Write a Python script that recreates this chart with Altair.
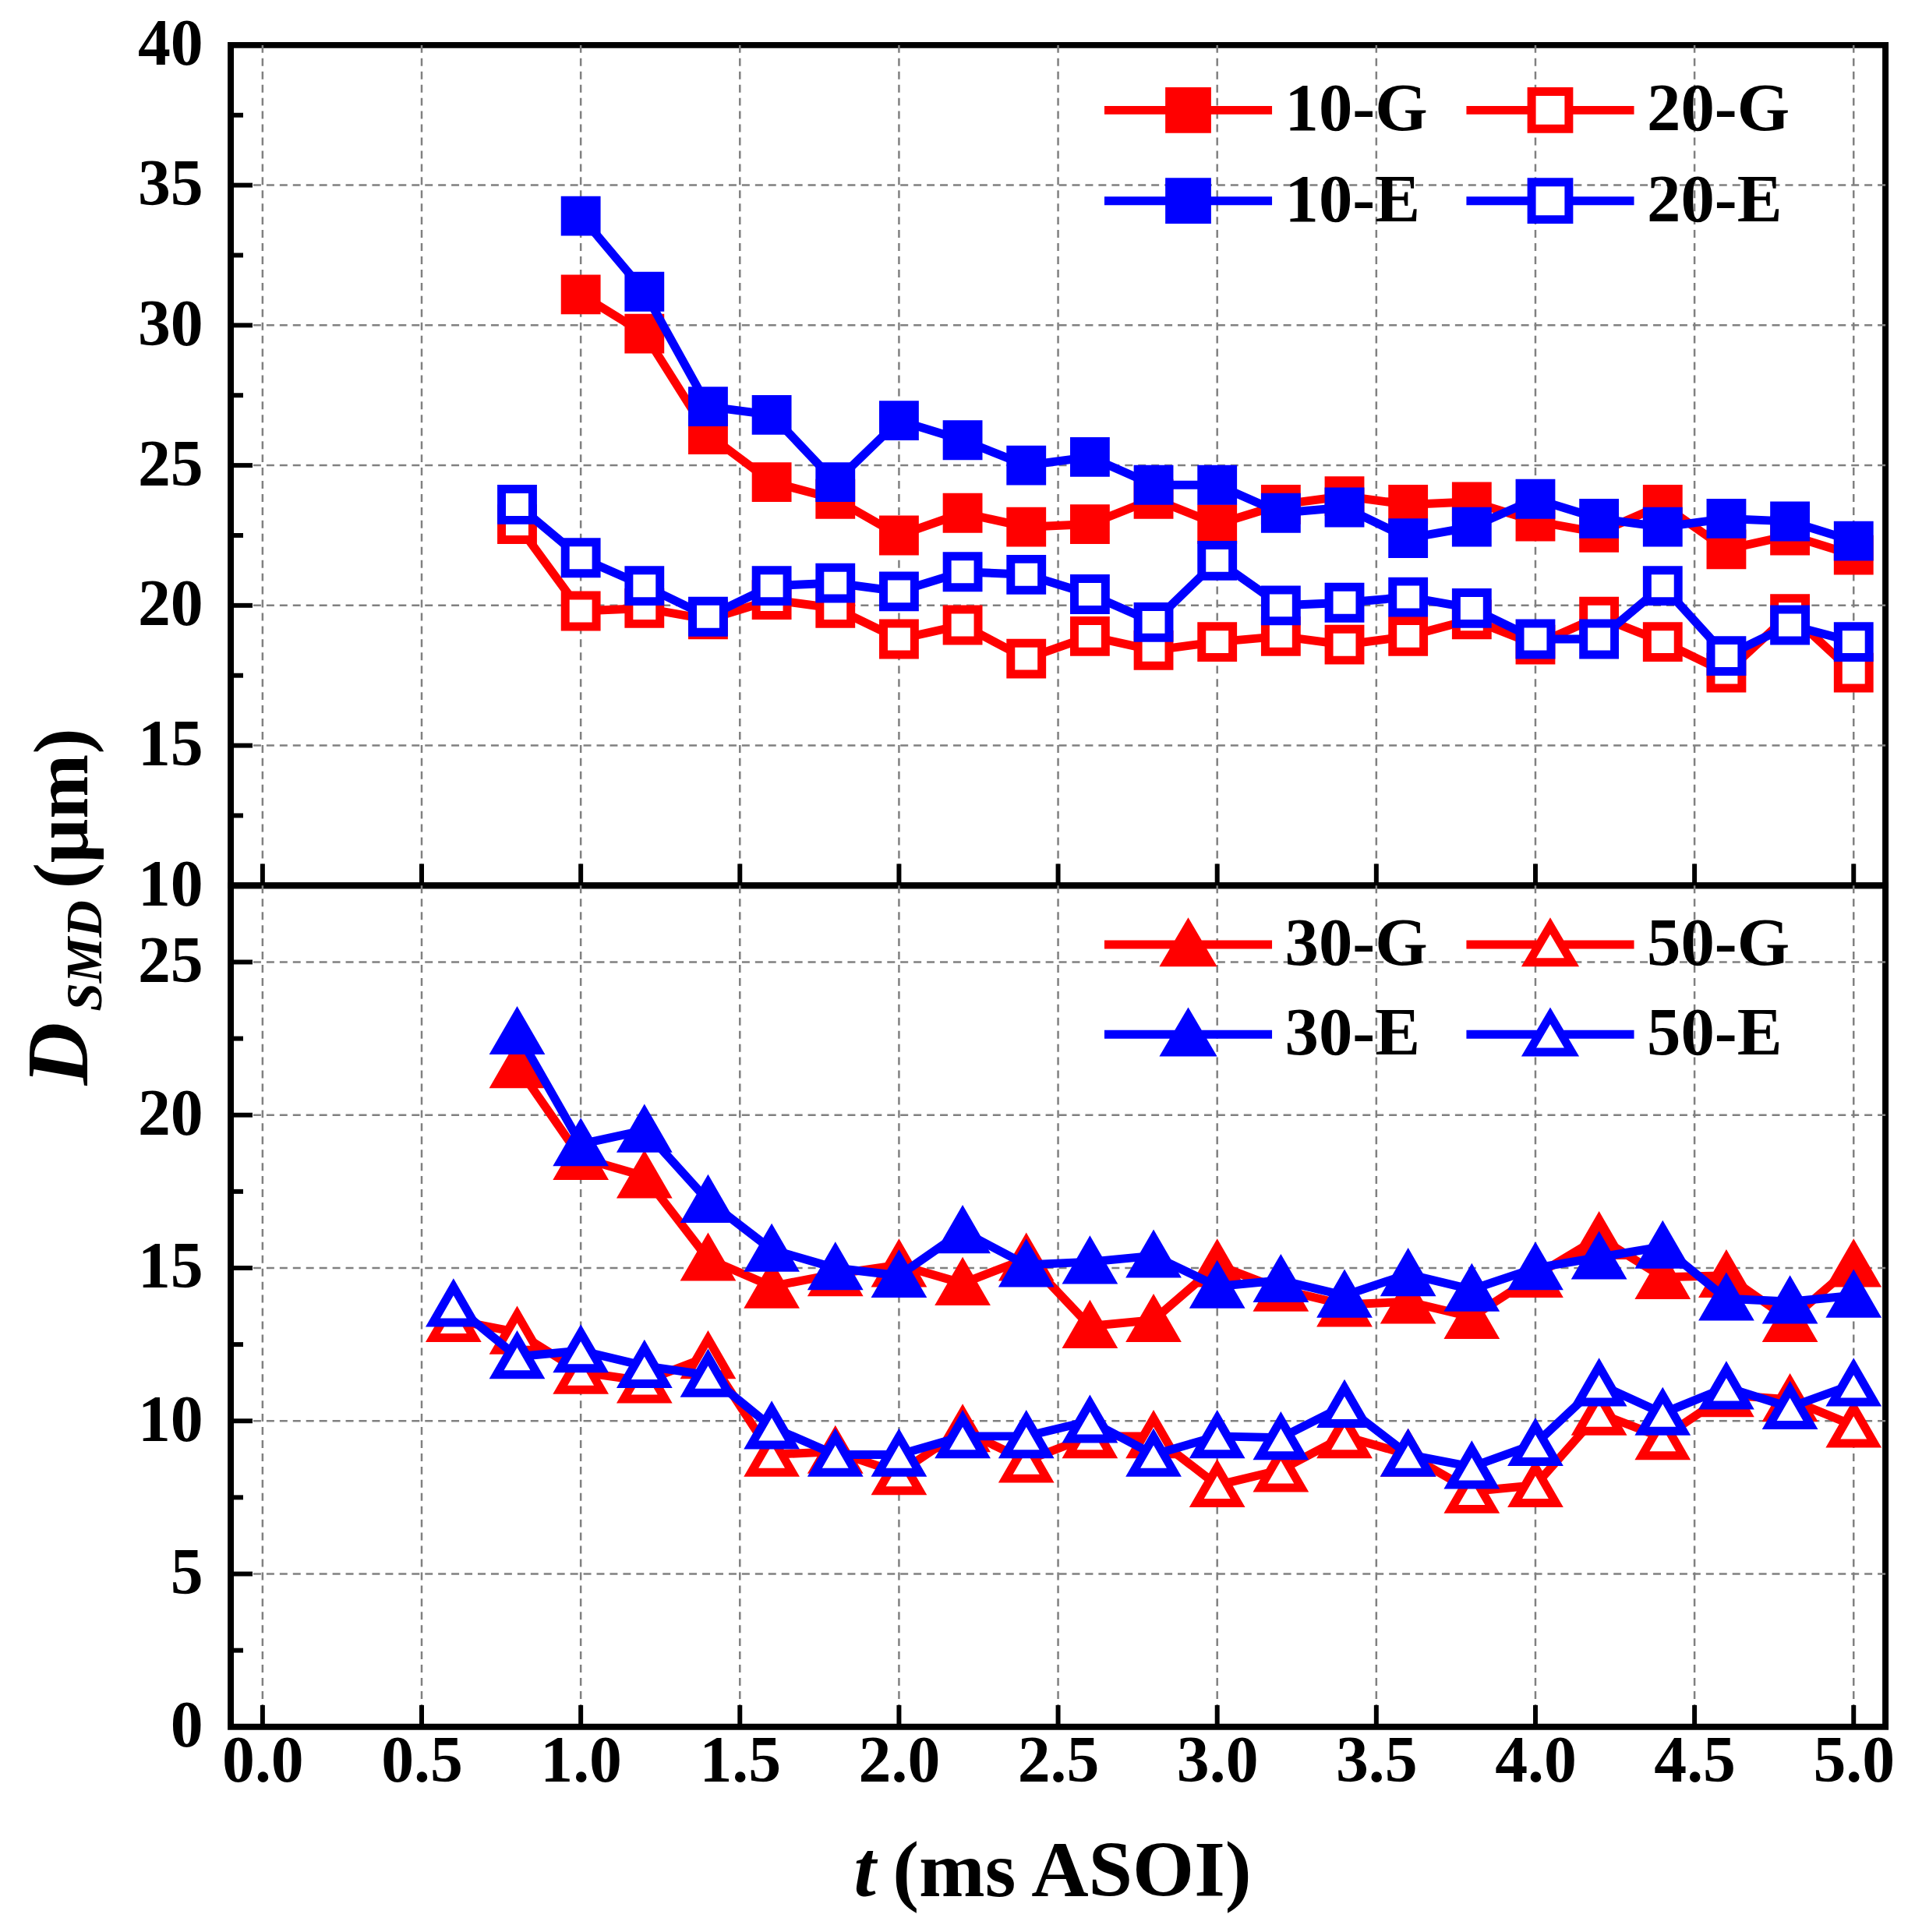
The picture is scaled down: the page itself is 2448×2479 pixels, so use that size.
import altair as alt
import pandas as pd

RED = "#FF0000"
BLUE = "#0000FF"
WHITE = "#FFFFFF"
SERIF = "Liberation Serif"

# ---------------- data ----------------
t_a = [1.0, 1.2, 1.4, 1.6, 1.8, 2.0, 2.2, 2.4, 2.6, 2.8, 3.0,
       3.2, 3.4, 3.6, 3.8, 4.0, 4.2, 4.4, 4.6, 4.8, 5.0]
t_b = [0.8, 1.0, 1.2, 1.4, 1.6, 1.8, 2.0, 2.2, 2.4, 2.6, 2.8, 3.0,
       3.2, 3.4, 3.6, 3.8, 4.0, 4.2, 4.4, 4.6, 4.8, 5.0]
t_c = [0.6, 0.8, 1.0, 1.2, 1.4, 1.6, 1.8, 2.0, 2.2, 2.4, 2.6, 2.8, 3.0,
       3.2, 3.4, 3.6, 3.8, 4.0, 4.2, 4.4, 4.6, 4.8, 5.0]

d_10G = [31.1, 29.7, 26.1, 24.4, 23.8, 22.5, 23.3, 22.8, 22.9, 23.8, 22.9,
         23.6, 23.9, 23.6, 23.7, 23.0, 22.6, 23.6, 22.0, 22.5, 21.8]
d_10E = [33.9, 31.2, 27.1, 26.8, 24.4, 26.6, 25.9, 25.0, 25.3, 24.3, 24.3,
         23.3, 23.5, 22.4, 22.8, 23.8, 23.1, 22.8, 23.1, 23.0, 22.3]
d_20G = [22.9, 19.8, 19.9, 19.5, 20.2, 19.9, 18.8, 19.3, 18.1, 18.9, 18.4,
         18.7, 18.9, 18.6, 18.9, 19.5, 18.6, 19.6, 18.7, 17.6, 19.7, 17.6]
d_20E = [23.6, 21.7, 20.7, 19.6, 20.7, 20.8, 20.5, 21.2, 21.1, 20.4, 19.4,
         21.6, 20.0, 20.1, 20.3, 19.9, 18.8, 18.8, 20.7, 18.2, 19.3, 18.7]

d_30G = [21.6, 18.6, 18.0, 15.3, 14.4, 14.8, 15.1, 14.5, 15.3, 13.1, 13.3,
         15.1, 14.3, 13.8, 13.9, 13.4, 14.75, 16.0, 14.7, 14.75, 13.3, 15.1]
d_30E = [22.7, 19.05, 19.5, 17.2, 15.6, 15.0, 14.75, 16.2, 15.1, 15.2, 15.4,
         14.4, 14.6, 14.1, 14.8, 14.3, 15.0, 15.35, 15.7, 14.0, 13.9, 14.1]
d_50G = [13.3, 12.9, 11.6, 11.3, 12.1, 8.9, 9.0, 8.3, 9.7, 8.7, 9.5, 9.5,
         7.9, 8.4, 9.5, 8.9, 7.7, 7.9, 10.25, 9.45, 10.85, 10.7, 9.85]
d_50E = [13.8, 12.1, 12.3, 11.8, 11.5, 9.8, 8.9, 8.9, 9.5, 9.5, 10.0, 8.9,
         9.5, 9.45, 10.5, 8.9, 8.5, 9.25, 11.2, 10.25, 11.1, 10.45, 11.2]

top_series = ["10-G", "20-G", "10-E", "20-E"]
bot_series = ["30-G", "50-G", "30-E", "50-E"]
line_colors = [RED, RED, BLUE, BLUE]
fill_colors = [RED, WHITE, BLUE, WHITE]

x_ticks = [0.0, 0.5, 1.0, 1.5, 2.0, 2.5, 3.0, 3.5, 4.0, 4.5, 5.0]
x_grid = [0.0, 0.5, 1.0, 1.5, 2.0, 2.5, 3.0, 3.5, 4.0, 4.5, 5.0]
top_labels = [10, 15, 20, 25, 30, 35, 40]
top_grid = [15, 20, 25, 30, 35]
top_minor = [12.5, 17.5, 22.5, 27.5, 32.5, 37.5]
bot_labels = [0, 5, 10, 15, 20, 25]
bot_grid = [5, 10, 15, 20, 25]
bot_minor = [2.5, 7.5, 12.5, 17.5, 22.5]


def frame(series, ts, ds):
    rows = []
    for s, t, d in zip(series, ts, ds):
        for ti, di in zip(t, d):
            rows.append({"t": ti, "d": di, "series": s})
    return pd.DataFrame(rows)


top_df = frame(top_series, [t_a, t_b, t_a, t_b], [d_10G, d_20G, d_10E, d_20E])
bot_df = frame(bot_series, [t_b, t_c, t_b, t_c], [d_30G, d_50G, d_30E, d_50E])

# ---------------- layout ----------------
W = 2130
H_TOP = 1082
H_BOT = 1083
XDOM = [-0.1, 5.1]

SQ_PATH = "M-4.5,0H-1M1,0H4.5M-1,-1H1V1H-1Z"
TRI_PATH = "M-4.5,0H-0.56M0.56,0H4.5M0,-1L-1.15,0.95H1.15Z"


def make_legend(path, ly):
    return alt.Legend(
        title=None, orient="none", legendX=1124, legendY=ly, columns=2,
        direction="horizontal",
        symbolType=path, symbolSize=2300, symbolStrokeWidth=11,
        labelFont=SERIF, labelFontSize=87, labelFontWeight="bold",
        labelColor="black", labelLimit=600, labelOffset=81,
        symbolOffset=65, columnPadding=27, rowPadding=24, padding=0,
    )


def panel(df, series, ydom, H, shape, psize, legend, ylabels, ygrid, yminor,
          show_x_labels, extras):
    xs = alt.Scale(domain=XDOM, nice=False, zero=False)
    ys = alt.Scale(domain=ydom, nice=False, zero=False)
    cscale = alt.Scale(domain=series, range=line_colors)
    fscale = alt.Scale(domain=series, range=fill_colors)

    if show_x_labels:
        xaxis = alt.Axis(values=x_ticks, format=".1f", title=None, grid=False,
                         labels=True, ticks=False, domain=False,
                         labelPadding=4, labelFlush=False, labelOverlap=False,
                         labelFont=SERIF, labelFontSize=84,
                         labelFontWeight="bold", labelColor="black")
    else:
        xaxis = alt.Axis(values=x_ticks, labels=False, title=None, grid=False,
                         ticks=False, domain=False)
    yaxis = alt.Axis(values=ylabels, format="d", title=None, grid=False,
                     labels=True, ticks=False, domain=False, labelPadding=36,
                     labelOverlap=False, labelFont=SERIF, labelFontSize=84,
                     labelFontWeight="bold", labelColor="black")

    def X(field):
        return alt.X(field, scale=xs, axis=xaxis)

    def Y(field):
        return alt.Y(field, scale=ys, axis=yaxis)

    layers = []
    # grid lines
    layers.append(
        alt.Chart(pd.DataFrame({"v": x_grid})).mark_rule(
            color="#808080", strokeWidth=2.5, strokeDash=[10, 7]
        ).encode(x=X("v:Q"))
    )
    layers.append(
        alt.Chart(pd.DataFrame({"v": ygrid})).mark_rule(
            color="#808080", strokeWidth=2.5, strokeDash=[10, 7]
        ).encode(y=Y("v:Q"))
    )
    # data: each series drawn as a line followed by its markers
    for s in series:
        base = alt.Chart(df).transform_filter(alt.datum.series == s)
        layers.append(
            base.mark_line(strokeWidth=11).encode(
                x=X("t:Q"), y=Y("d:Q"),
                color=alt.Color("series:N", scale=cscale, legend=legend),
            )
        )
        layers.append(
            base.mark_point(shape=shape, filled=False, size=psize,
                            strokeWidth=11, opacity=1).encode(
                x=X("t:Q"), y=Y("d:Q"),
                color=alt.Color("series:N", scale=cscale, legend=legend),
                fill=alt.Fill("series:N", scale=fscale, legend=legend),
            )
        )
    # inward ticks
    layers.append(
        alt.Chart(pd.DataFrame({"v": x_ticks})).mark_rule(
            color="black", strokeWidth=6
        ).encode(x=X("v:Q"), y=alt.value(H), y2=alt.value(H - 28))
    )
    layers.append(
        alt.Chart(pd.DataFrame({"v": ylabels})).mark_rule(
            color="black", strokeWidth=6
        ).encode(y=Y("v:Q"), x=alt.value(0), x2=alt.value(28))
    )
    layers.append(
        alt.Chart(pd.DataFrame({"v": yminor})).mark_rule(
            color="black", strokeWidth=6
        ).encode(y=Y("v:Q"), x=alt.value(0), x2=alt.value(16))
    )
    layers.extend(extras)
    return alt.layer(*layers).properties(width=W, height=H)


one = pd.DataFrame({"k": [0]})


def label(text, x, y, size, style="normal", angle=0):
    return alt.Chart(one).mark_text(
        text=text, font=SERIF, fontSize=size, fontWeight="bold",
        fontStyle=style, angle=angle, align="left", baseline="alphabetic",
        color="black",
    ).encode(x=alt.value(x), y=alt.value(y))


bot_extras = [
    label("D", -185, 257, 112, "italic", 270),
    label("SMD", -167, 162, 66, "italic", 270),
    label("(μm)", -185, 4, 100, "normal", 270),
    label("t", 802, 1301, 102, "italic"),
    label("(ms ASOI)", 852, 1301, 102, "normal"),
]

top = panel(top_df, top_series, [10, 40], H_TOP, "square", 1600,
            make_legend(SQ_PATH, 40), top_labels, top_grid, top_minor,
            False, [])
bot = panel(bot_df, bot_series, [0, 27.5], H_BOT, "triangle-up", 2800,
            make_legend(TRI_PATH, 32), bot_labels, bot_grid, bot_minor,
            True, bot_extras)

chart = alt.vconcat(top, bot, spacing=0, bounds="flush").resolve_scale(
    color="independent", fill="independent", x="independent", y="independent"
).resolve_legend(color="independent", fill="independent").properties(
    padding={"left": 10, "top": 0, "right": 5, "bottom": 5}
).configure_view(
    stroke="black", strokeWidth=8
)

chart.save("out.html", embed_options={"renderer": "svg", "actions": False})
